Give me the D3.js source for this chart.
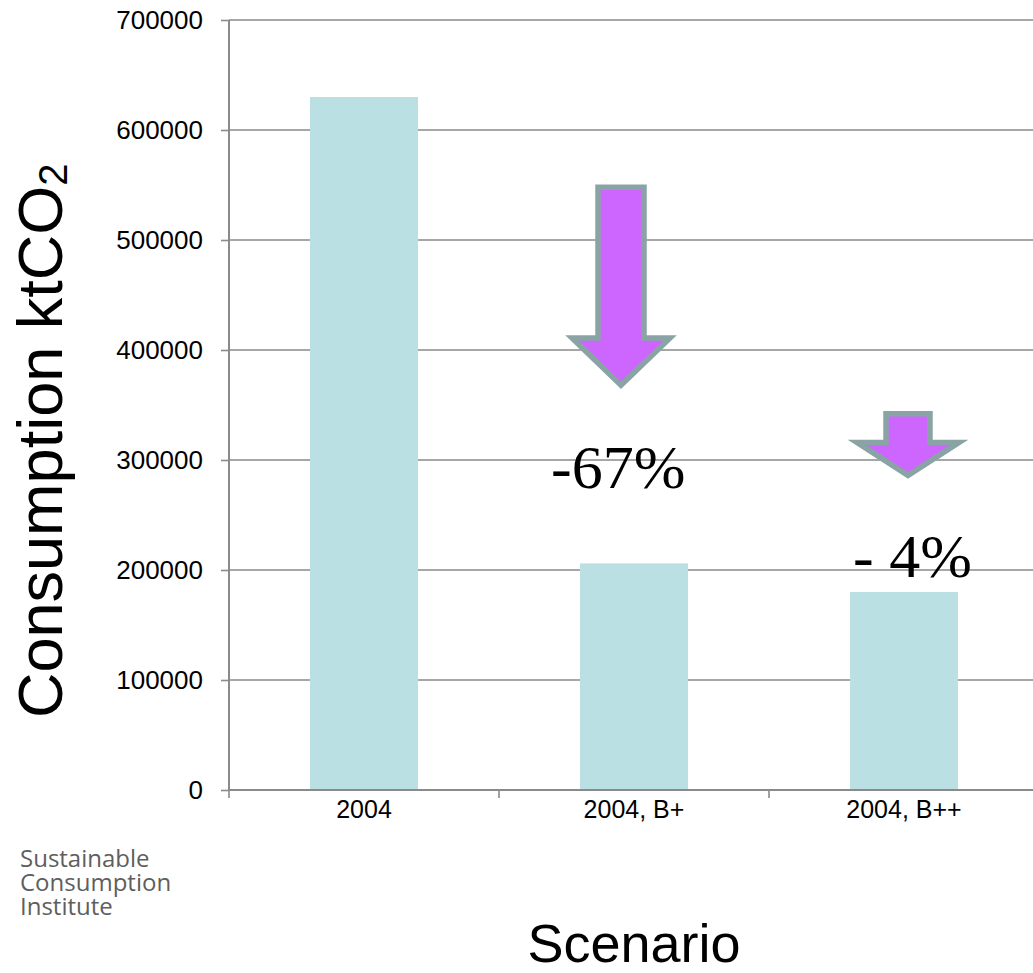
<!DOCTYPE html>
<html>
<head>
<meta charset="utf-8">
<script src="https://cdn.jsdelivr.net/npm/d3@7"></script>
<style>
  html, body { margin: 0; padding: 0; background: #fff; }
  svg { display: block; }
</style>
</head>
<body>
<svg id="chart" width="1033" height="973"></svg>
<script>
// Scenario categories and consumption emissions (ktCO2)
const categories = ["2004", "2004, B+", "2004, B++"];
const consumption = [630000, 206000, 180000];
const yTicks = [0, 100000, 200000, 300000, 400000, 500000, 600000, 700000];

// Reduction arrows: shaft top, head base and tip, in ktCO2
const arrowCats = ["2004, B+", "2004, B++"];
const arrowTop = [548000, 342000];
const arrowNeck = [411000, 316000];
const arrowTip = [368000, 286000];

// Percentage change labels
const changeCats = ["2004, B+", "2004, B++"];
const changeText = ["-67%", "- 4%"];
const changeAt = [275000, 193500];

const svg = d3.select("#chart");
const plotLeft = 229, plotTop = 20, plotBottom = 790, step = 270;

const x = d3.scaleBand()
  .domain(categories)
  .range([plotLeft, plotLeft + step * categories.length])
  .padding(0);
const y = d3.scaleLinear().domain([0, 700000]).range([plotBottom, plotTop]);

const gridColor = "#8a8a8a";

// Horizontal gridlines
svg.append("g")
  .selectAll("line")
  .data(yTicks.filter(d => d > 0))
  .join("line")
  .attr("x1", plotLeft).attr("x2", 1033)
  .attr("y1", d => y(d)).attr("y2", d => y(d))
  .attr("stroke", gridColor).attr("stroke-width", 1.6);

// Bars
const barW = x.bandwidth() * 0.4;
svg.append("g")
  .selectAll("rect")
  .data(categories)
  .join("rect")
  .attr("x", (d) => x(d) + (x.bandwidth() - barW) / 2)
  .attr("y", (d, i) => y(consumption[i]))
  .attr("width", barW)
  .attr("height", (d, i) => y(0) - y(consumption[i]))
  .attr("fill", "#bae0e3");

// Y axis
const yAxis = svg.append("g")
  .attr("transform", `translate(${plotLeft},0)`)
  .call(d3.axisLeft(y).tickValues(yTicks).tickFormat(d3.format("d")).tickSize(8).tickPadding(18));
yAxis.select(".domain").attr("stroke", gridColor).attr("stroke-width", 2)
  .attr("d", `M0,${plotTop}V${plotBottom}`);
yAxis.selectAll(".tick line").attr("stroke", gridColor).attr("stroke-width", 1.6);
yAxis.selectAll(".tick text")
  .attr("font-family", "'Liberation Sans', Arial, sans-serif")
  .attr("font-size", 26).attr("fill", "#000");

// X axis with ticks at band boundaries
const xAxis = svg.append("g")
  .attr("transform", `translate(0,${plotBottom})`)
  .call(d3.axisBottom(x).tickSize(0).tickPadding(10));
xAxis.select(".domain").attr("stroke", gridColor).attr("stroke-width", 2)
  .attr("d", `M${plotLeft},0H1033`);
xAxis.selectAll(".tick text")
  .attr("font-family", "'Liberation Sans', Arial, sans-serif")
  .attr("font-size", 25).attr("fill", "#000");
xAxis.append("g")
  .selectAll("line")
  .data(categories.map(c => x(c)))
  .join("line")
  .attr("x1", d => d).attr("x2", d => d)
  .attr("y1", 0).attr("y2", 8)
  .attr("stroke", gridColor).attr("stroke-width", 1.6);

// Down arrows
const arrowOffset = { "2004, B+": { dx: -13, shaft: 23, head: 49 }, "2004, B++": { dx: 4, shaft: 22, head: 51 } };
svg.append("g")
  .selectAll("path")
  .data(arrowCats)
  .join("path")
  .attr("d", (c, i) => {
    const o = arrowOffset[c];
    const cx = x(c) + x.bandwidth() / 2 + o.dx;
    const yt = y(arrowTop[i]), yn = y(arrowNeck[i]), yp = y(arrowTip[i]);
    return `M${cx - o.shaft},${yt}H${cx + o.shaft}V${yn}H${cx + o.head}L${cx},${yp}L${cx - o.head},${yn}H${cx - o.shaft}Z`;
  })
  .attr("fill", "#cc66ff")
  .attr("stroke", "#8aa4a6")
  .attr("stroke-width", 5.5)
  .attr("stroke-linejoin", "miter");

// Change labels
const labelOffset = { "2004, B+": -83, "2004, B++": -51 };
svg.append("g")
  .selectAll("text")
  .data(changeCats)
  .join("text")
  .attr("x", c => x(c) + x.bandwidth() / 2 + labelOffset[c])
  .attr("y", (c, i) => y(changeAt[i]))
  .attr("font-family", "'Liberation Serif', 'Times New Roman', serif")
  .attr("font-size", 62)
  .attr("fill", "#000")
  .text((c, i) => changeText[i]);

// Y axis title with subscript
const yTitle = svg.append("text")
  .attr("transform", "translate(62,718) rotate(-90)")
  .attr("font-family", "'Liberation Sans', Arial, sans-serif")
  .attr("font-size", 63)
  .attr("fill", "#000");
yTitle.append("tspan").text("Consumption ktCO");
yTitle.append("tspan").attr("font-size", 40).attr("dy", 5).text("2");

// X axis title
svg.append("text")
  .attr("x", x("2004, B+") + x.bandwidth() / 2)
  .attr("y", 962)
  .attr("text-anchor", "middle")
  .attr("font-family", "'Liberation Sans', Arial, sans-serif")
  .attr("font-size", 54)
  .attr("fill", "#000")
  .text("Scenario");

// Institute wordmark
const wordmark = ["Sustainable", "Consumption", "Institute"];
svg.append("g")
  .selectAll("text")
  .data(wordmark)
  .join("text")
  .attr("x", 20)
  .attr("y", (d, i) => 867 + i * 24)
  .attr("font-family", "'Open Sans', 'Noto Sans', sans-serif")
  .attr("font-size", 24)
  .attr("fill", "#5e5e5e")
  .text(d => d);
</script>
</body>
</html>
